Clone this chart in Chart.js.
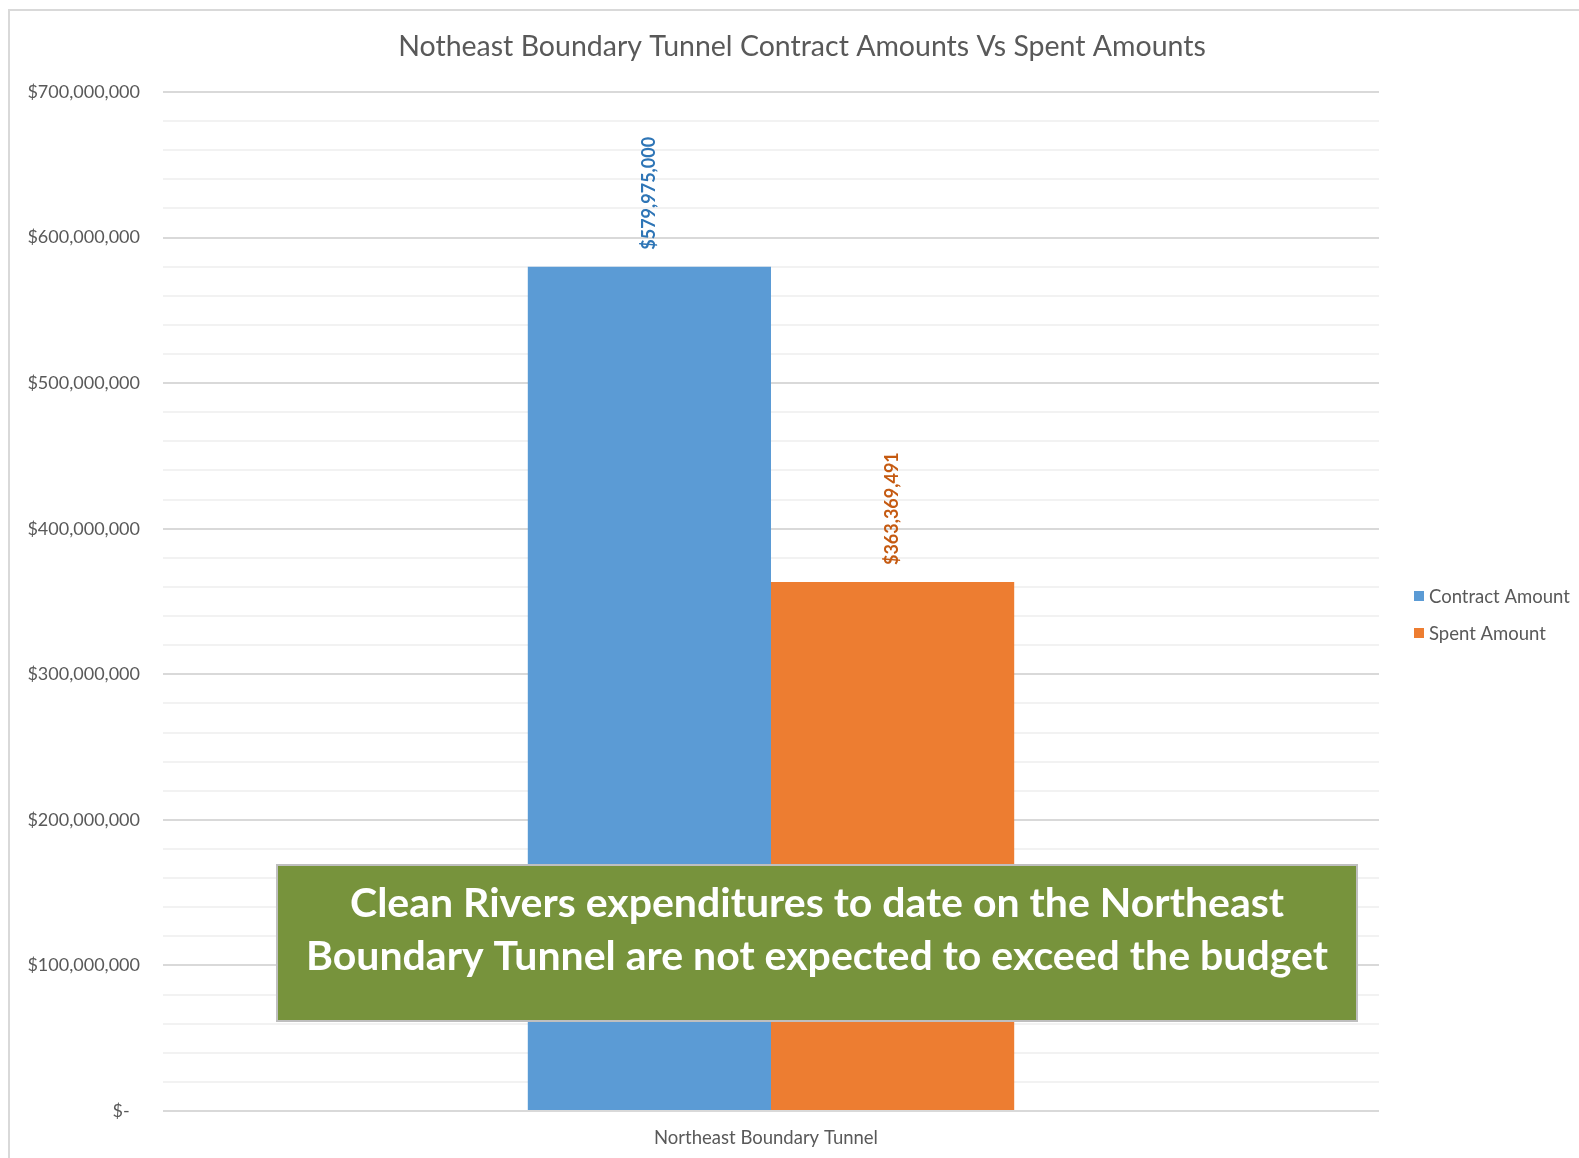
<!DOCTYPE html>
<html>
<head>
<meta charset="utf-8">
<script src="https://cdn.jsdelivr.net/npm/chart.js@4.4.0/dist/chart.umd.min.js"></script>
<style>
  html, body { margin: 0; padding: 0; background: #ffffff; overflow: hidden; }
  #wrap { position: relative; width: 1579px; height: 1158px; }
  #frame { position: absolute; left: 8px; top: 9px; width: 1600px; height: 1200px; border: 2px solid #d9d9d9; box-sizing: border-box; }
  canvas { position: absolute; left: 0; top: 0; }
</style>
</head>
<body>
<div id="wrap">
  <div id="frame"></div>
  <canvas id="c" width="1579" height="1158"></canvas>
</div>
<script>
const chartTitle = 'Notheast Boundary Tunnel Contract Amounts Vs Spent Amounts';
const categories = ['Northeast Boundary Tunnel'];
const seriesNames = ['Contract Amount', 'Spent Amount'];
const contractAmounts = [579975000];
const spentAmounts = [363369491];
const seriesColors = ['#5B9BD5', '#ED7D31'];
const labelColors = ['#2E75B6', '#C55A11'];
const yTickMax = 700000000;
const yTickStep = 20000000;
const calloutLines = [
  'Clean Rivers expenditures to date on the Northeast',
  'Boundary Tunnel are not expected to exceed the budget'
];

const FONT = 'Lato, "Open Sans", sans-serif';
const TEXT_GRAY = '#595959';

function fmtMoney(v) {
  if (v === 0) return '$-  \u200A';
  return '$' + v.toLocaleString('en-US');
}

const titlePlugin = {
  id: 'customTitle',
  afterDraw(chart) {
    const ctx = chart.ctx;
    ctx.save();
    ctx.font = '28.5px ' + FONT;
    ctx.fillStyle = TEXT_GRAY;
    ctx.textAlign = 'center';
    ctx.textBaseline = 'middle';
    ctx.fillText(chartTitle, 802, 47);
    ctx.restore();
  }
};

const dataLabelPlugin = {
  id: 'dataLabels',
  afterDatasetsDraw(chart) {
    const ctx = chart.ctx;
    chart.data.datasets.forEach((ds, di) => {
      const meta = chart.getDatasetMeta(di);
      meta.data.forEach((bar, i) => {
        ctx.save();
        ctx.translate(bar.x, bar.y - 17);
        ctx.rotate(-Math.PI / 2);
        ctx.font = 'bold 18px ' + FONT;
        ctx.fillStyle = labelColors[di];
        ctx.textAlign = 'left';
        ctx.textBaseline = 'middle';
        ctx.fillText(fmtMoney(ds.data[i]), 0, 0);
        ctx.restore();
      });
    });
  }
};

const legendPlugin = {
  id: 'customLegend',
  afterDraw(chart) {
    const ctx = chart.ctx;
    const x0 = chart.chartArea.right + 35;
    const yStart = 596;
    const gap = 37;
    chart.data.datasets.forEach((ds, di) => {
      const y = yStart + di * gap;
      ctx.save();
      ctx.fillStyle = ds.backgroundColor;
      ctx.fillRect(x0, y - 5, 10, 10);
      ctx.font = '18.5px ' + FONT;
      ctx.fillStyle = TEXT_GRAY;
      ctx.textAlign = 'left';
      ctx.textBaseline = 'middle';
      ctx.fillText(ds.label, x0 + 15, y + 1);
      ctx.restore();
    });
  }
};

const calloutPlugin = {
  id: 'callout',
  afterDraw(chart) {
    const ctx = chart.ctx;
    const bx = 277, by = 865, bw = 1080, bh = 156;
    ctx.save();
    ctx.fillStyle = '#77933C';
    ctx.fillRect(bx, by, bw, bh);
    ctx.strokeStyle = '#BFBFBF';
    ctx.lineWidth = 2;
    ctx.strokeRect(bx, by, bw, bh);
    ctx.fillStyle = '#ffffff';
    ctx.font = 'bold 41px ' + FONT;
    ctx.textAlign = 'center';
    ctx.textBaseline = 'middle';
    ctx.fillText(calloutLines[0], bx + bw / 2, 904);
    ctx.fillText(calloutLines[1], bx + bw / 2, 957);
    ctx.restore();
  }
};

new Chart(document.getElementById('c'), {
  type: 'bar',
  data: {
    labels: categories,
    datasets: [
      { label: seriesNames[0], data: contractAmounts, backgroundColor: seriesColors[0] },
      { label: seriesNames[1], data: spentAmounts, backgroundColor: seriesColors[1] }
    ]
  },
  options: {
    responsive: false,
    animation: false,
    devicePixelRatio: 1,
    layout: { padding: { left: 0, right: 200, top: 92, bottom: 11 } },
    datasets: { bar: { categoryPercentage: 0.4, barPercentage: 1.0 } },
    plugins: {
      legend: { display: false },
      tooltip: { enabled: false },
      title: { display: false }
    },
    scales: {
      x: {
        afterFit(scale) { scale.height = 36; },
        grid: { display: false, drawTicks: false },
        border: { display: false },
        ticks: { color: TEXT_GRAY, font: { family: FONT, size: 18.5 }, padding: 16, labelOffset: -5 }
      },
      y: {
        min: 0,
        max: yTickMax,
        afterFit(scale) { scale.width = 163; },
        border: { display: false },
        grid: {
          drawTicks: false,
          lineWidth: 2,
          color(ctx) {
            const v = ctx.tick ? ctx.tick.value : 0;
            return (v % 100000000 === 0) ? '#d9d9d9' : '#f2f2f2';
          }
        },
        ticks: {
          stepSize: yTickStep,
          padding: 23,
          color: TEXT_GRAY,
          font: { family: FONT, size: 18 },
          autoSkip: false,
          callback(v) { return (v % 100000000 === 0) ? fmtMoney(v) : ''; }
        }
      }
    }
  },
  plugins: [dataLabelPlugin, legendPlugin, calloutPlugin, titlePlugin]
});
</script>
</body>
</html>
